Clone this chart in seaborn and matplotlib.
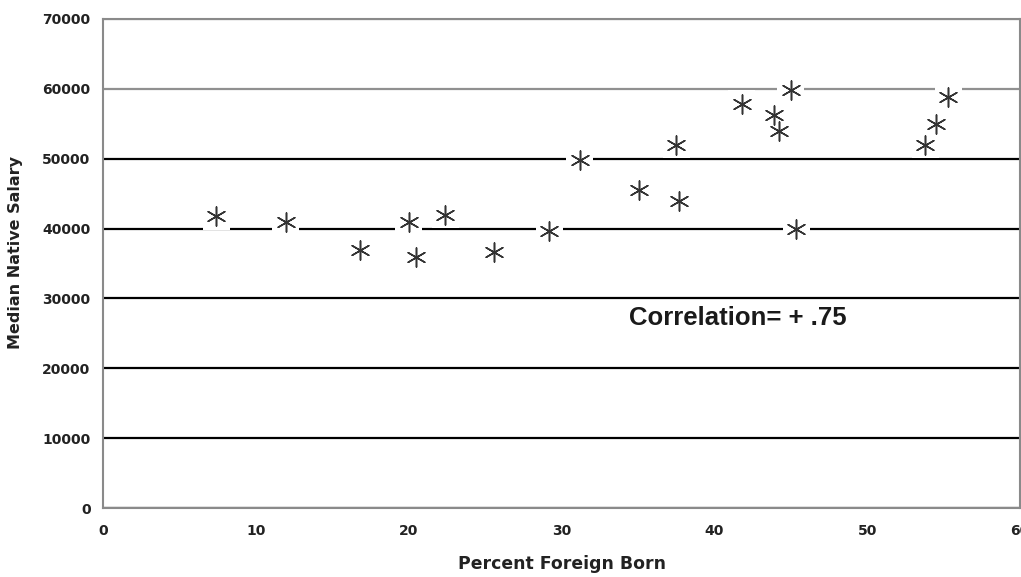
import matplotlib
matplotlib.use("Agg")
import matplotlib.pyplot as plt
import seaborn as sns
import pandas as pd

pct_foreign = [7.4, 11.95, 16.8, 20.0, 20.5, 22.4, 25.6, 29.2, 31.2, 35.1,
               37.5, 37.7, 41.8, 43.9, 44.25, 45.0, 45.35, 53.8, 54.5, 55.3]
median_salary = [41800, 41000, 36900, 41000, 36000, 42000, 36600, 39650, 49800, 45500,
                 52000, 43900, 57900, 56250, 53950, 59900, 39900, 52000, 55000, 58900]
x_ticks = [0, 10, 20, 30, 40, 50, 60]
y_ticks = [0, 10000, 20000, 30000, 40000, 50000, 60000, 70000]
annotation = "Correlation= + .75"

df = pd.DataFrame({"x": pct_foreign, "y": median_salary})

sns.set_style("white")
plt.rcParams['font.family'] = ['DejaVu Sans']

fig = plt.figure(figsize=(10.21, 5.77), dpi=100)
ax = fig.add_axes([103/1021, 1-508/577, 917/1021, 489/577])

ax.set_xlim(0, 60)
ax.set_ylim(0, 70000)
ax.set_xticks(x_ticks)
ax.set_yticks(y_ticks)
ax.set_xticklabels([str(t) for t in x_ticks], fontsize=10, fontweight='bold', color='#222222')
ax.set_yticklabels([str(t) for t in y_ticks], fontsize=10, fontweight='bold', color='#222222')

ax.set_axisbelow(True)
ax.yaxis.grid(True, color='black', linewidth=1.6)
for t, gl in zip(y_ticks, ax.get_ygridlines()):
    if t >= 60000:
        gl.set_color('#909090')
for sp in ax.spines.values():
    sp.set_color('#8a8a8a')
    sp.set_linewidth(1.5)
    sp.set_visible(True)

ax.tick_params(axis='y', direction='out', length=6, width=1, color='#8a8a8a', pad=3)
ax.tick_params(axis='x', direction='inout', length=5, width=1, color='#8a8a8a', pad=9)

sns.scatterplot(data=df, x="x", y="y", ax=ax, marker='s', s=380, color='white',
                edgecolor='none', linewidth=0, zorder=3, legend=False)
sns.scatterplot(data=df, x="x", y="y", ax=ax, marker=(6, 2, 0), s=190, color='#333333',
                linewidth=1.1, zorder=4, legend=False)

ax.text(34.4, 27200, annotation, ha='left', va='center', fontsize=18.5,
        fontweight='bold', family='Liberation Sans', color='#1a1a1a')

ax.set_xlabel("Percent Foreign Born", fontsize=12.4, fontweight='bold', color='#222222')
ax.set_ylabel("Median Native Salary", fontsize=11.5, fontweight='bold', color='#222222')
ax.xaxis.set_label_coords(0.5, -0.096)
ax.yaxis.set_label_coords(-0.087, 0.522)

fig.savefig("out.png", dpi=100)
